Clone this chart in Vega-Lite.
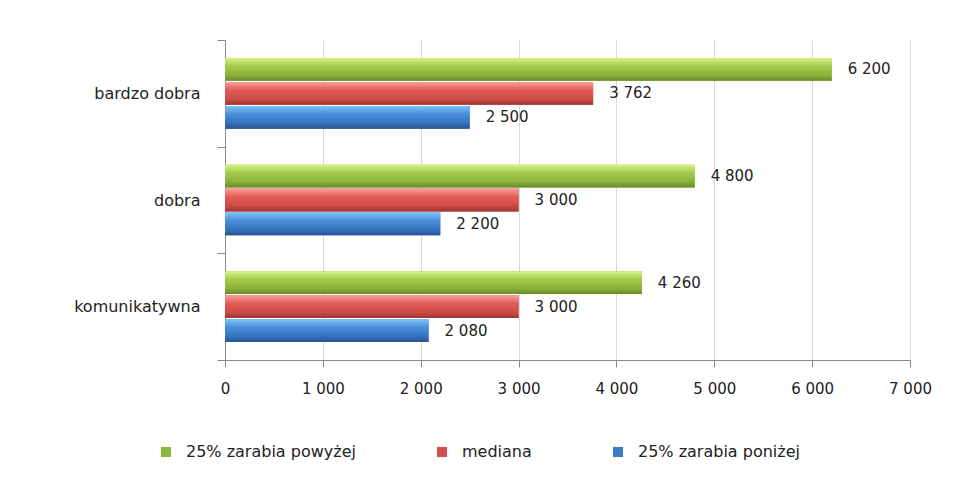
{
  "$schema": "https://vega.github.io/schema/vega-lite/v6.json",
  "width": 685,
  "height": 320,
  "autosize": {"type": "none"},
  "padding": {"left": 225, "top": 40, "right": 47, "bottom": 126},
  "background": "white",
  "config": {"view": {"stroke": null}, "font": "DejaVu Sans"},
  "data": {
    "values": [
      {"kat": "bardzo dobra", "seria": "25% zarabia powyżej", "wartosc": 6200, "etykieta": "6 200"},
      {"kat": "bardzo dobra", "seria": "mediana", "wartosc": 3762, "etykieta": "3 762"},
      {"kat": "bardzo dobra", "seria": "25% zarabia poniżej", "wartosc": 2500, "etykieta": "2 500"},
      {"kat": "dobra", "seria": "25% zarabia powyżej", "wartosc": 4800, "etykieta": "4 800"},
      {"kat": "dobra", "seria": "mediana", "wartosc": 3000, "etykieta": "3 000"},
      {"kat": "dobra", "seria": "25% zarabia poniżej", "wartosc": 2200, "etykieta": "2 200"},
      {"kat": "komunikatywna", "seria": "25% zarabia powyżej", "wartosc": 4260, "etykieta": "4 260"},
      {"kat": "komunikatywna", "seria": "mediana", "wartosc": 3000, "etykieta": "3 000"},
      {"kat": "komunikatywna", "seria": "25% zarabia poniżej", "wartosc": 2080, "etykieta": "2 080"}
    ]
  },
  "encoding": {
    "y": {
      "field": "kat", "type": "nominal",
      "sort": ["bardzo dobra", "dobra", "komunikatywna"],
      "scale": {"paddingInner": 0, "paddingOuter": 0},
      "axis": {"title": null, "tickBand": "extent", "grid": false, "domainColor": "#888888", "tickColor": "#888888", "tickSize": 8, "labelPadding": 17, "labelFontSize": 16, "labelColor": "#222222"}
    },
    "yOffset": {
      "field": "seria", "type": "nominal",
      "sort": ["25% zarabia powyżej", "mediana", "25% zarabia poniżej"],
      "scale": {"paddingInner": 0.05, "paddingOuter": 0.75}
    },
    "x": {
      "field": "wartosc", "type": "quantitative",
      "scale": {"domain": [0, 7000], "nice": false},
      "axis": {"title": null, "values": [0, 1000, 2000, 3000, 4000, 5000, 6000, 7000], "labelExpr": "replace(format(datum.value, ','), ',', ' ')", "grid": true, "gridColor": "#D9D9D9", "domainColor": "#888888", "tickColor": "#888888", "tickSize": 7, "labelPadding": 14, "labelFontSize": 15, "labelColor": "#222222", "labelFlush": false, "labelOverlap": false}
    }
  },
  "layer": [
    {
      "mark": {"type": "bar"},
      "encoding": {
        "color": {
          "field": "seria", "type": "nominal",
          "scale": {"domain": ["25% zarabia powyżej", "mediana", "25% zarabia poniżej"], "range": ["#8DB93A", "#D4504C", "#3C7BC6"]},
          "legend": {"orient": "none", "legendX": -67, "legendY": 404, "direction": "horizontal", "title": null, "symbolType": "square", "symbolSize": 100, "symbolStrokeWidth": 0, "labelFontSize": 16, "labelColor": "#222222", "columnPadding": 78, "labelOffset": 12, "labelLimit": 400}
        }
      }
    },
    {
      "transform": [{"filter": "datum.seria === '25% zarabia powyżej'"}],
      "mark": {"type": "bar", "color": {"gradient": "linear", "x1": 0, "y1": 0, "x2": 0, "y2": 1, "stops": [{"offset": 0, "color": "#D8F28A"}, {"offset": 0.35, "color": "#A6CC4E"}, {"offset": 0.75, "color": "#8AB13A"}, {"offset": 1, "color": "#6A8A2A"}]}}
    },
    {
      "transform": [{"filter": "datum.seria === 'mediana'"}],
      "mark": {"type": "bar", "color": {"gradient": "linear", "x1": 0, "y1": 0, "x2": 0, "y2": 1, "stops": [{"offset": 0, "color": "#F7A09A"}, {"offset": 0.35, "color": "#E35C57"}, {"offset": 0.75, "color": "#CC4A46"}, {"offset": 1, "color": "#9E3532"}]}}
    },
    {
      "transform": [{"filter": "datum.seria === '25% zarabia poniżej'"}],
      "mark": {"type": "bar", "color": {"gradient": "linear", "x1": 0, "y1": 0, "x2": 0, "y2": 1, "stops": [{"offset": 0, "color": "#7EC4F8"}, {"offset": 0.35, "color": "#4A8FDA"}, {"offset": 0.75, "color": "#3672BE"}, {"offset": 1, "color": "#265492"}]}}
    },
    {
      "mark": {"type": "text", "align": "left", "baseline": "middle", "dx": 16, "fontSize": 15, "color": "#222222"},
      "encoding": {"text": {"field": "etykieta", "type": "nominal"}}
    }
  ]
}
